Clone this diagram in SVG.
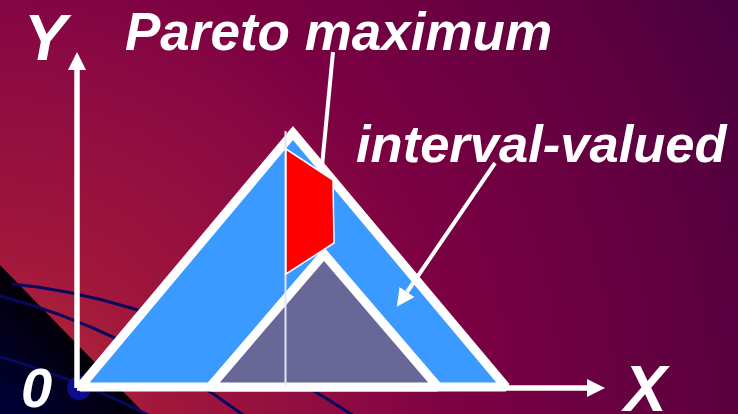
<svg xmlns="http://www.w3.org/2000/svg" width="738" height="414" viewBox="0 0 738 414">
<defs>
<radialGradient id="bg" gradientUnits="userSpaceOnUse" cx="0" cy="414" r="850">
<stop offset="0" stop-color="#b8303a"/>
<stop offset="0.18" stop-color="#a2183b"/>
<stop offset="0.45" stop-color="#880843"/>
<stop offset="0.55" stop-color="#7a0042"/>
<stop offset="0.87" stop-color="#5a0040"/>
<stop offset="1" stop-color="#46003f"/>
</radialGradient>
<linearGradient id="dark" gradientUnits="userSpaceOnUse" x1="72" y1="340" x2="0" y2="414">
<stop offset="0" stop-color="#040008"/>
<stop offset="1" stop-color="#00003a"/>
</linearGradient>
<marker id="ah" viewBox="0 -9 18 18" refX="0" refY="0" markerWidth="18" markerHeight="18" markerUnits="userSpaceOnUse" orient="auto">
<path d="M0,-9 L18,0 L0,9 z" fill="#fff"/>
</marker>
<style>
.lbl{font-family:"Liberation Sans",Arial,sans-serif;font-weight:bold;font-style:italic;fill:#fff}
.tri{stroke:#fff;stroke-width:9;stroke-linejoin:miter;stroke-miterlimit:2}
.curve{fill:none;stroke:#08085e;stroke-width:3}
.conn{stroke:#fff;fill:none}
</style>
</defs>
<rect width="738" height="414" fill="url(#bg)"/>
<polygon points="0,265 145,414 0,414" fill="url(#dark)"/>
<path class="curve" d="M12,284 Q180,300 360,420"/>
<path class="curve" d="M0,296 Q130,330 250,420"/>
<path class="curve" d="M0,357 Q80,380 150,416"/>
<circle cx="79" cy="388" r="12" fill="#0c0c8c"/>
<g id="outer-triangle">
<polygon class="tri" points="80,387 293,133 506,387" fill="#3a9aff"/>
</g>
<g id="inner-triangle">
<polygon class="tri" points="210,387 324,254 438,387" fill="#676798"/>
</g>
<g id="divider">
<line x1="285.5" y1="131" x2="285.5" y2="387" stroke="#e4e4f0" stroke-width="2"/>
</g>
<g id="pareto-region">
<polygon points="286,149 333,180 334,243 286,274" fill="#ff0000" stroke="#fff" stroke-width="1.5"/>
</g>
<g id="connectors">
<line class="conn" x1="77" y1="388" x2="77" y2="70" stroke-width="5.5" marker-end="url(#ah)"/>
<line class="conn" x1="77" y1="388" x2="587" y2="388" stroke-width="5.5" marker-end="url(#ah)"/>
<line class="conn" x1="333" y1="52" x2="322" y2="166" stroke-width="4"/>
<line class="conn" x1="495" y1="163" x2="407" y2="292" stroke-width="4" marker-end="url(#ah)"/>
</g>
<g id="label-y"><text class="lbl" x="24" y="60" font-size="64">Y</text></g>
<g id="label-x"><text class="lbl" x="624" y="411" font-size="64">X</text></g>
<g id="label-0"><text class="lbl" x="21" y="407" font-size="56">0</text></g>
<g id="label-pareto"><text class="lbl" x="125" y="50" font-size="53">Pareto maximum</text></g>
<g id="label-interval"><text class="lbl" x="356" y="162" font-size="52.5">interval-valued</text></g>
</svg>
